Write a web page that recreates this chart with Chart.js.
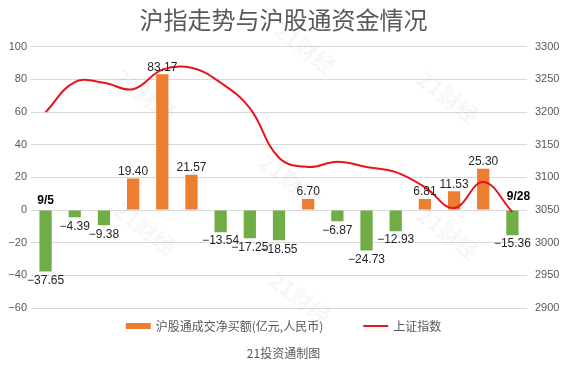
<!DOCTYPE html>
<html>
<head>
<meta charset="utf-8">
<script src="https://cdn.jsdelivr.net/npm/chart.js@4"></script>
<style>
  html, body { margin: 0; padding: 0; background: #fff; }
  #wrap { width: 567px; height: 370px; }
</style>
</head>
<body>
<div id="wrap"><canvas id="chart"></canvas></div>
<script>
// 数据
const dates      = ['9/5', '9/6', '9/7', '9/10', '9/11', '9/12', '9/13', '9/14', '9/17',
                    '9/18', '9/19', '9/20', '9/21', '9/25', '9/26', '9/27', '9/28']
const netBuy     = [-37.65, -4.39, -9.38, 19.40, 83.17, 21.57, -13.54, -17.25, -18.55,
                    6.70, -6.87, -24.73, -12.93, 6.81, 11.53, 25.30, -15.36]
const sseIndex   = [3200, 3246, 3245, 3235, 3265, 3268, 3245, 3206, 3130,
                    3116, 3124, 3116, 3108, 3085, 3053, 3093, 3047]
const leftTicks  = [-60, -40, -20, 0, 20, 40, 60, 80, 100]
const rightTicks = [2900, 2950, 3000, 3050, 3100, 3150, 3200, 3250, 3300]

const ORANGE = '#ED7D31'
const GREEN  = '#70AD47'
const RED    = '#E8141C'
const GREY   = '#595959'
const FONT   = '"Liberation Sans", Arial, "Noto Sans CJK SC", sans-serif'
const CJK    = '"Noto Sans CJK SC", "Liberation Sans", sans-serif'

const minus = s => String(s).replace('-', '\u2212')

// 标签、图例、水印
const extras = {
    id: 'extras',
    beforeDatasetsDraw(chart) {
        const { ctx } = chart
        const marks = [[145, 95], [305, 48], [290, 180], [448, 97], [145, 228], [300, 298], [448, 233]]
        ctx.save()
        ctx.fillStyle = 'rgba(0,0,0,0.035)'
        ctx.font = 'bold 22px ' + CJK
        ctx.textAlign = 'center'
        ctx.textBaseline = 'middle'
        marks.forEach(([x, y]) => {
            ctx.save()
            ctx.translate(x, y)
            ctx.rotate(0.65)
            ctx.fillText('21财经', 0, 0)
            ctx.restore()
        })
        ctx.restore()
    },
    afterDatasetsDraw(chart) {
        const { ctx } = chart
        const bars = chart.getDatasetMeta(1).data
        ctx.save()
        ctx.font = '12px ' + FONT
        ctx.fillStyle = '#262626'
        ctx.textAlign = 'center'
        bars.forEach((bar, i) => {
            const v = netBuy[i]
            if (v >= 0) {
                ctx.textBaseline = 'bottom'
                ctx.fillText(v.toFixed(2), bar.x, bar.y - 1)
            } else {
                ctx.textBaseline = 'top'
                ctx.fillText(minus(v.toFixed(2)), bar.x, bar.y + 3)
            }
        })
        // 首尾日期
        const zeroY = chart.scales.y.getPixelForValue(0)
        ctx.font = 'bold 12px ' + FONT
        ctx.fillStyle = '#000'
        ctx.textBaseline = 'bottom'
        ctx.fillText(dates[0], bars[0].x, zeroY - 3)
        const last = bars.length - 1
        ctx.fillText(dates[last], bars[last].x + 6, zeroY - 7)
        ctx.restore()
    },
    afterDraw(chart) {
        const { ctx, width } = chart
        ctx.save()
        ctx.font = '12px ' + CJK
        ctx.textBaseline = 'middle'
        ctx.textAlign = 'left'
        const t1 = '沪股通成交净买额(亿元,人民币)'
        const t2 = '上证指数'
        const w1 = ctx.measureText(t1).width
        const w2 = ctx.measureText(t2).width
        const total = 25 + 5 + w1 + 40 + 25 + 5 + w2
        let x = (width - total) / 2
        const y = 326
        ctx.fillStyle = ORANGE
        ctx.fillRect(x, y - 3, 25, 6)
        x += 30
        ctx.fillStyle = GREY
        ctx.fillText(t1, x, y)
        x += w1 + 40
        ctx.strokeStyle = RED
        ctx.lineWidth = 2
        ctx.beginPath()
        ctx.moveTo(x, y)
        ctx.lineTo(x + 25, y)
        ctx.stroke()
        x += 30
        ctx.fillText(t2, x, y)
        ctx.textAlign = 'center'
        ctx.fillText('21投资通制图', width / 2, 353)
        ctx.restore()
    }
}

new Chart(document.getElementById('chart'), {
    data: {
        labels: dates,
        datasets: [
            {
                type: 'line',
                label: '上证指数',
                data: sseIndex,
                yAxisID: 'y1',
                borderColor: RED,
                borderWidth: 2,
                pointRadius: 0,
                tension: 0.4,
                fill: false,
                order: 0,
            },
            {
                type: 'bar',
                label: '沪股通成交净买额(亿元,人民币)',
                data: netBuy,
                yAxisID: 'y',
                backgroundColor: netBuy.map(v => v >= 0 ? ORANGE : GREEN),
                categoryPercentage: 1,
                barPercentage: 0.42,
                order: 1,
            },
        ]
    },
    options: {
        responsive: true,
        maintainAspectRatio: false,
        animation: false,
        layout: { padding: { left: 0, right: 0, top: 0, bottom: 62 } },
        plugins: {
            legend: { display: false },
            tooltip: { enabled: false },
            title: {
                display: true,
                text: '沪指走势与沪股通资金情况',
                color: GREY,
                font: { family: CJK, size: 24, weight: 'normal' },
                padding: { top: 5, bottom: 13 },
            },
        },
        scales: {
            x: { display: false, offset: true },
            y: {
                position: 'left',
                min: leftTicks[0],
                max: leftTicks[leftTicks.length - 1],
                afterBuildTicks: s => { s.ticks = leftTicks.map(v => ({ value: v })) },
                afterFit: s => { s.width = 31 },
                border: { display: false },
                grid: { color: '#D9D9D9', drawTicks: false },
                ticks: { color: GREY, font: { family: FONT, size: 11 }, padding: 4,
                         callback: v => minus(v) },
            },
            y1: {
                position: 'right',
                min: rightTicks[0],
                max: rightTicks[rightTicks.length - 1],
                afterBuildTicks: s => { s.ticks = rightTicks.map(v => ({ value: v })) },
                afterFit: s => { s.width = 40 },
                border: { display: false },
                grid: { display: false, drawTicks: false },
                ticks: { color: GREY, font: { family: FONT, size: 11 }, padding: 8,
                         callback: v => String(v) },
            },
        }
    },
    plugins: [extras]
})
</script>
</body>
</html>
